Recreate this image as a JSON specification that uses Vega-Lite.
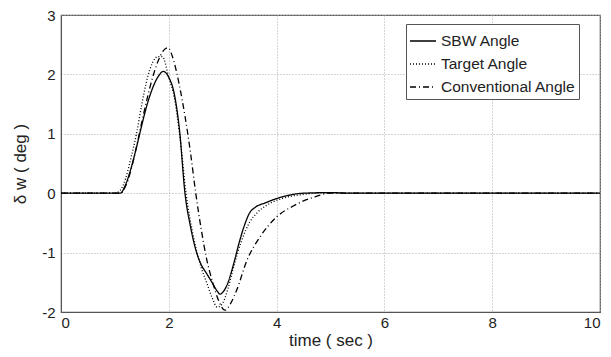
{
  "$schema": "https://vega.github.io/schema/vega-lite/v6.json",
  "width": 539,
  "height": 297,
  "autosize": {"type": "none"},
  "padding": {"left": 61, "top": 15, "right": 11, "bottom": 45},
  "background": "white",
  "config": {
    "font": "Liberation Sans",
    "view": {"stroke": "#555", "strokeWidth": 1.2},
    "axis": {
      "grid": true,
      "gridColor": "#aaa",
      "gridDash": [1, 2],
      "gridWidth": 1,
      "domainColor": "#555",
      "ticks": false,
      "labelFontSize": 15,
      "labelColor": "#222",
      "titleFontSize": 17,
      "titleFontWeight": "normal",
      "titleColor": "#222"
    }
  },
  "data": {
    "values": [
      {"t": 0, "v": 0, "s": "SBW Angle"},
      {"t": 1.0, "v": 0, "s": "SBW Angle"},
      {"t": 1.1, "v": 0.0, "s": "SBW Angle"},
      {"t": 1.2, "v": 0.15, "s": "SBW Angle"},
      {"t": 1.3, "v": 0.42, "s": "SBW Angle"},
      {"t": 1.4, "v": 0.77, "s": "SBW Angle"},
      {"t": 1.5, "v": 1.15, "s": "SBW Angle"},
      {"t": 1.6, "v": 1.5, "s": "SBW Angle"},
      {"t": 1.7, "v": 1.77, "s": "SBW Angle"},
      {"t": 1.8, "v": 1.96, "s": "SBW Angle"},
      {"t": 1.9, "v": 2.05, "s": "SBW Angle"},
      {"t": 2.0, "v": 1.95, "s": "SBW Angle"},
      {"t": 2.1, "v": 1.68, "s": "SBW Angle"},
      {"t": 2.2, "v": 1.05, "s": "SBW Angle"},
      {"t": 2.3, "v": 0.0, "s": "SBW Angle"},
      {"t": 2.4, "v": -0.55, "s": "SBW Angle"},
      {"t": 2.5, "v": -0.95, "s": "SBW Angle"},
      {"t": 2.6, "v": -1.2, "s": "SBW Angle"},
      {"t": 2.7, "v": -1.35, "s": "SBW Angle"},
      {"t": 2.8, "v": -1.5, "s": "SBW Angle"},
      {"t": 2.9, "v": -1.65, "s": "SBW Angle"},
      {"t": 2.95, "v": -1.7, "s": "SBW Angle"},
      {"t": 3.0, "v": -1.67, "s": "SBW Angle"},
      {"t": 3.1, "v": -1.5, "s": "SBW Angle"},
      {"t": 3.2, "v": -1.2, "s": "SBW Angle"},
      {"t": 3.3, "v": -0.85, "s": "SBW Angle"},
      {"t": 3.4, "v": -0.55, "s": "SBW Angle"},
      {"t": 3.5, "v": -0.33, "s": "SBW Angle"},
      {"t": 3.6, "v": -0.24, "s": "SBW Angle"},
      {"t": 3.8, "v": -0.16, "s": "SBW Angle"},
      {"t": 4.0, "v": -0.09, "s": "SBW Angle"},
      {"t": 4.2, "v": -0.04, "s": "SBW Angle"},
      {"t": 4.5, "v": 0.0, "s": "SBW Angle"},
      {"t": 5.0, "v": 0.01, "s": "SBW Angle"},
      {"t": 5.4, "v": 0.0, "s": "SBW Angle"},
      {"t": 10, "v": 0, "s": "SBW Angle"},

      {"t": 0, "v": 0, "s": "Target Angle"},
      {"t": 1.0, "v": 0, "s": "Target Angle"},
      {"t": 1.1, "v": 0.05, "s": "Target Angle"},
      {"t": 1.2, "v": 0.25, "s": "Target Angle"},
      {"t": 1.3, "v": 0.6, "s": "Target Angle"},
      {"t": 1.4, "v": 1.0, "s": "Target Angle"},
      {"t": 1.5, "v": 1.5, "s": "Target Angle"},
      {"t": 1.6, "v": 1.93, "s": "Target Angle"},
      {"t": 1.7, "v": 2.2, "s": "Target Angle"},
      {"t": 1.8, "v": 2.3, "s": "Target Angle"},
      {"t": 1.88, "v": 2.3, "s": "Target Angle"},
      {"t": 2.0, "v": 1.95, "s": "Target Angle"},
      {"t": 2.1, "v": 1.62, "s": "Target Angle"},
      {"t": 2.2, "v": 1.0, "s": "Target Angle"},
      {"t": 2.32, "v": 0.0, "s": "Target Angle"},
      {"t": 2.45, "v": -0.7, "s": "Target Angle"},
      {"t": 2.6, "v": -1.25, "s": "Target Angle"},
      {"t": 2.7, "v": -1.5, "s": "Target Angle"},
      {"t": 2.8, "v": -1.75, "s": "Target Angle"},
      {"t": 2.9, "v": -1.92, "s": "Target Angle"},
      {"t": 3.0, "v": -1.85, "s": "Target Angle"},
      {"t": 3.1, "v": -1.6, "s": "Target Angle"},
      {"t": 3.2, "v": -1.25, "s": "Target Angle"},
      {"t": 3.35, "v": -0.8, "s": "Target Angle"},
      {"t": 3.5, "v": -0.49, "s": "Target Angle"},
      {"t": 3.65, "v": -0.32, "s": "Target Angle"},
      {"t": 3.82, "v": -0.2, "s": "Target Angle"},
      {"t": 4.1, "v": -0.09, "s": "Target Angle"},
      {"t": 4.5, "v": -0.02, "s": "Target Angle"},
      {"t": 4.8, "v": 0.0, "s": "Target Angle"},
      {"t": 10, "v": 0, "s": "Target Angle"},

      {"t": 0, "v": 0, "s": "Conventional Angle"},
      {"t": 1.1, "v": 0, "s": "Conventional Angle"},
      {"t": 1.2, "v": 0.12, "s": "Conventional Angle"},
      {"t": 1.3, "v": 0.4, "s": "Conventional Angle"},
      {"t": 1.4, "v": 0.78, "s": "Conventional Angle"},
      {"t": 1.5, "v": 1.2, "s": "Conventional Angle"},
      {"t": 1.6, "v": 1.6, "s": "Conventional Angle"},
      {"t": 1.7, "v": 1.95, "s": "Conventional Angle"},
      {"t": 1.8, "v": 2.22, "s": "Conventional Angle"},
      {"t": 1.9, "v": 2.4, "s": "Conventional Angle"},
      {"t": 1.98, "v": 2.45, "s": "Conventional Angle"},
      {"t": 2.1, "v": 2.2, "s": "Conventional Angle"},
      {"t": 2.2, "v": 1.8, "s": "Conventional Angle"},
      {"t": 2.3, "v": 1.3, "s": "Conventional Angle"},
      {"t": 2.4, "v": 0.7, "s": "Conventional Angle"},
      {"t": 2.5, "v": 0.0, "s": "Conventional Angle"},
      {"t": 2.6, "v": -0.6, "s": "Conventional Angle"},
      {"t": 2.7, "v": -1.1, "s": "Conventional Angle"},
      {"t": 2.82, "v": -1.52, "s": "Conventional Angle"},
      {"t": 2.93, "v": -1.82, "s": "Conventional Angle"},
      {"t": 3.04, "v": -1.97, "s": "Conventional Angle"},
      {"t": 3.15, "v": -1.85, "s": "Conventional Angle"},
      {"t": 3.26, "v": -1.63, "s": "Conventional Angle"},
      {"t": 3.45, "v": -1.13, "s": "Conventional Angle"},
      {"t": 3.69, "v": -0.74, "s": "Conventional Angle"},
      {"t": 4.0, "v": -0.4, "s": "Conventional Angle"},
      {"t": 4.3, "v": -0.22, "s": "Conventional Angle"},
      {"t": 4.68, "v": -0.07, "s": "Conventional Angle"},
      {"t": 5.0, "v": 0.0, "s": "Conventional Angle"},
      {"t": 10, "v": 0, "s": "Conventional Angle"}
    ]
  },
  "mark": {"type": "line", "interpolate": "monotone", "color": "#000", "strokeWidth": 1.3},
  "encoding": {
    "x": {
      "field": "t", "type": "quantitative",
      "scale": {"domain": [0, 10], "nice": false},
      "axis": {"values": [0, 2, 4, 6, 8, 10], "title": "time ( sec )", "labelPadding": 3, "titlePadding": 2, "labelExpr": "'' + datum.value"}
    },
    "y": {
      "field": "v", "type": "quantitative",
      "scale": {"domain": [-2, 3], "nice": false, "zero": false},
      "axis": {"values": [-2, -1, 0, 1, 2, 3], "title": "δ w ( deg )", "labelPadding": 6, "titlePadding": 12, "labelExpr": "'' + datum.value"}
    },
    "strokeDash": {
      "field": "s", "type": "nominal",
      "scale": {
        "domain": ["SBW Angle", "Target Angle", "Conventional Angle"],
        "range": [[1, 0], [1, 2], [6, 3, 1, 3]]
      },
      "legend": {
        "title": null,
        "orient": "none",
        "legendX": 345,
        "legendY": 9,
        "symbolType": "stroke",
        "symbolSize": 676,
        "symbolStrokeColor": "#000",
        "symbolStrokeWidth": 1.3,
        "labelFontSize": 15.5,
        "labelColor": "#222",
        "labelOffset": 4,
        "rowPadding": -7,
        "padding": 3,
        "fillColor": "white",
        "strokeColor": "#555"
      }
    }
  }
}
